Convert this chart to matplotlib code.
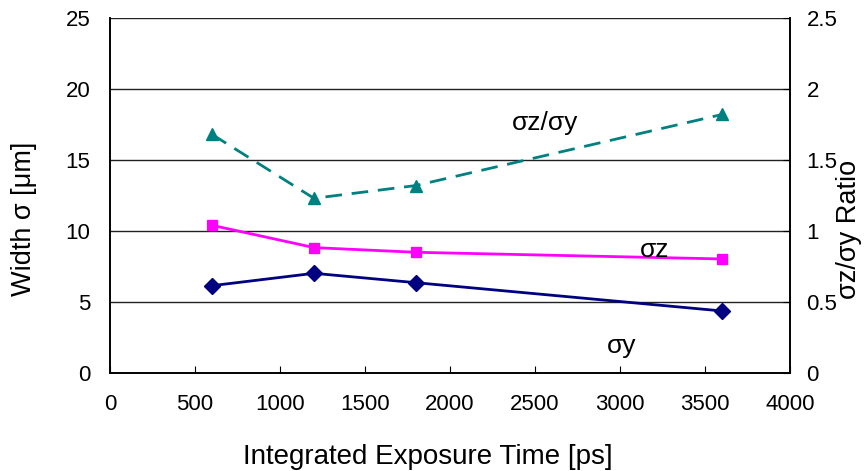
import matplotlib.pyplot as plt
import numpy as np

plt.rcParams['font.family'] = ['Liberation Sans', 'DejaVu Sans']

time_ps = np.array([600, 1200, 1800, 3600])
sigma_y = np.array([6.15, 7.02, 6.36, 4.37])
sigma_z = np.array([10.4, 8.83, 8.5, 8.03])
ratio = np.array([1.68, 1.23, 1.32, 1.82])

fig = plt.figure(figsize=(8.64, 4.71), dpi=100)
ax = fig.add_axes([0.1273, 0.208, 0.787, 0.754])
ax2 = ax.twinx()

ax.set_xlim(0, 4000)
ax.set_ylim(0, 25)
ax2.set_ylim(0, 2.5)
ax.set_xticks(np.arange(0, 4001, 500))
ax.set_yticks(np.arange(0, 26, 5))
ax2.set_yticks([0, 0.5, 1, 1.5, 2, 2.5])
ax2.set_yticklabels(["0", "0.5", "1", "1.5", "2", "2.5"])

for y in [5, 10, 15, 20, 25]:
    ax.axhline(y, color="#222222", lw=1, zorder=1)

ax.plot(time_ps, sigma_y, color="#000080", lw=2, marker="D", markersize=8, zorder=3)
ax.plot(time_ps, sigma_z, color="#FF00FF", lw=2, marker="s", markersize=7, zorder=3)
ax2.plot(time_ps, ratio, color="#008080", lw=2, linestyle=(0, (6, 3.5)),
         marker="^", markersize=9, zorder=3)

ax.text(2559, 17.6, "σz/σy", fontsize=19, ha="center", va="center")
ax.text(3206, 8.66, "σz", fontsize=19, ha="center", va="center")
ax.text(3012, 1.9, "σy", fontsize=19, ha="center", va="center")

for a in (ax, ax2):
    for s in a.spines.values():
        s.set_linewidth(1.2)
    a.spines["top"].set_visible(False)

ax.tick_params(axis="x", direction="in", length=5, pad=15, labelsize=16)
ax.tick_params(axis="y", direction="in", length=0, pad=14, labelsize=16)
ax2.tick_params(axis="y", direction="in", length=5, pad=12, labelsize=16)

ax.set_xlabel("Integrated Exposure Time [ps]", fontsize=20, va="center")
ax.xaxis.set_label_coords(0.468, -0.237)
ax.set_ylabel("Width σ [μm]", fontsize=19.5, va="center")
ax.yaxis.set_label_coords(-0.1265, 0.434)
ax2.set_ylabel("σz/σy Ratio", fontsize=19.5, rotation=90, va="center")
ax2.yaxis.set_label_coords(1.087, 0.403)

fig.savefig("out.png", dpi=100)
